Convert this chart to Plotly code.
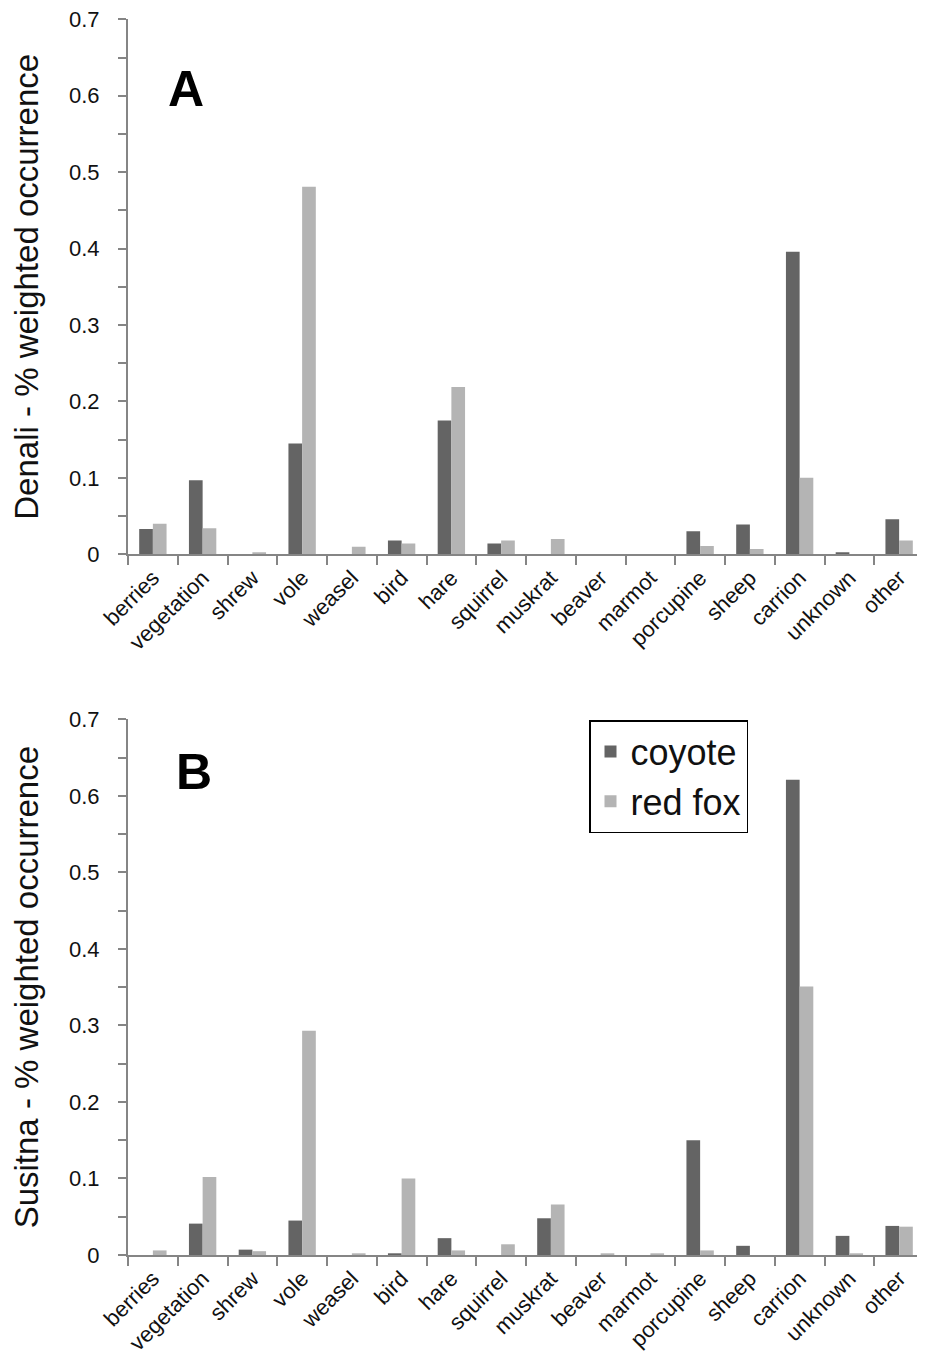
import plotly.graph_objects as go

categories = ["berries", "vegetation", "shrew", "vole", "weasel", "bird", "hare",
              "squirrel", "muskrat", "beaver", "marmot", "porcupine", "sheep",
              "carrion", "unknown", "other"]

denali_coyote = [0.033, 0.097, 0.0, 0.145, 0.0, 0.018, 0.175, 0.014, 0.0, 0.0, 0.0,
                 0.030, 0.039, 0.396, 0.002, 0.046]
denali_fox = [0.040, 0.034, 0.002, 0.481, 0.010, 0.014, 0.219, 0.018, 0.020, 0.0, 0.0,
              0.011, 0.007, 0.100, 0.0, 0.018]

susitna_coyote = [0.0, 0.041, 0.007, 0.045, 0.0, 0.002, 0.022, 0.0, 0.048, 0.0, 0.0,
                  0.150, 0.012, 0.621, 0.025, 0.038]
susitna_fox = [0.006, 0.102, 0.005, 0.293, 0.002, 0.100, 0.006, 0.014, 0.066, 0.002, 0.002,
               0.006, 0.0, 0.351, 0.002, 0.037]

y_ticks = [0, 0.1, 0.2, 0.3, 0.4, 0.5, 0.6, 0.7]
y_tick_text = ["0", "0.1", "0.2", "0.3", "0.4", "0.5", "0.6", "0.7"]
panel_titles = ["Denali - % weighted occurrence", "Susitna - % weighted occurrence"]
panel_letters = ["A", "B"]
series_names = ["coyote", "red fox"]

COYOTE = "#646464"
FOX = "#b4b4b4"
AXIS = "#858585"
FONT = "Liberation Sans, Arial, sans-serif"

# page body has an 8px margin: work in page pixels and convert
OFF = 8
W, H = 925 - OFF, 1367 - OFF
ML, MR = 128 - OFF, 1
PW = W - ML - MR

fig = go.Figure()

fig.add_trace(go.Bar(x=categories, y=denali_coyote, name=series_names[0], marker_color=COYOTE,
                     marker_line_width=0, xaxis="x", yaxis="y", showlegend=False))
fig.add_trace(go.Bar(x=categories, y=denali_fox, name=series_names[1], marker_color=FOX,
                     marker_line_width=0, xaxis="x", yaxis="y", showlegend=False))
fig.add_trace(go.Bar(x=categories, y=susitna_coyote, name=series_names[0], marker_color=COYOTE,
                     marker_line_width=0, xaxis="x2", yaxis="y2"))
fig.add_trace(go.Bar(x=categories, y=susitna_fox, name=series_names[1], marker_color=FOX,
                     marker_line_width=0, xaxis="x2", yaxis="y2"))

def ydom(top_px, bottom_px):
    return [1 - (bottom_px - OFF) / H, 1 - (top_px - OFF) / H]

n = len(categories)
boundaries = [i - 0.5 for i in range(n + 1)]

xcommon = dict(
    type="category", categoryorder="array", categoryarray=categories,
    range=[-0.5, n - 0.5],
    showline=True, linecolor=AXIS, linewidth=2,
    ticks="outside", tickson="boundaries", ticklen=9, tickwidth=2, tickcolor=AXIS,
    tickangle=-45, tickfont=dict(family=FONT, size=22, color="#111"),
    ticklabeloverflow="allow",
    showgrid=False, zeroline=False, fixedrange=True,
)
xinner = dict(
    type="linear", range=[-0.5, n - 0.5], tickvals=boundaries,
    ticks="inside", ticklen=6, tickwidth=2, tickcolor=AXIS,
    showticklabels=False, showline=False, showgrid=False, zeroline=False, fixedrange=True,
)
ycommon = dict(
    range=[0, 0.7], tickvals=y_ticks, ticktext=y_tick_text,
    showline=True, linecolor=AXIS, linewidth=2,
    ticks="outside", ticklen=8, tickwidth=2, tickcolor=AXIS,
    minor=dict(dtick=0.05, tick0=0, ticks="outside", ticklen=8, tickwidth=2, tickcolor=AXIS),
    tickfont=dict(family=FONT, size=22, color="#111"),
    ticklabelstandoff=14, ticklabeloverflow="allow",
    showgrid=False, zeroline=False, fixedrange=True,
)

fig.update_layout(
    width=W, height=H,
    margin=dict(l=ML, r=MR, t=0, b=0, autoexpand=False),
    paper_bgcolor="white", plot_bgcolor="white",
    barmode="group", bargap=0.45, bargroupgap=0,
    font=dict(family=FONT, color="#111"),
    xaxis=dict(xcommon, anchor="y", domain=[0, 1]),
    yaxis=dict(ycommon, anchor="x", domain=ydom(19.3, 554.3),
               title=dict(text=panel_titles[0], font=dict(family=FONT, size=33, color="#111"), standoff=24)),
    xaxis2=dict(xcommon, anchor="y2", domain=[0, 1]),
    yaxis2=dict(ycommon, anchor="x2", domain=ydom(719.3, 1255),
                title=dict(text=panel_titles[1], font=dict(family=FONT, size=33, color="#111"), standoff=24)),
    xaxis3=dict(xinner, overlaying="x", anchor="y", side="bottom"),
    xaxis4=dict(xinner, overlaying="x2", anchor="y2", side="bottom"),
    legend=dict(
        x=(589 - OFF - ML) / PW, y=1 - (720 - OFF) / H, xanchor="left", yanchor="top",
        bordercolor="black", borderwidth=1.5, bgcolor="white",
        font=dict(family=FONT, size=36, color="#111"),
        itemwidth=30, tracegroupgap=0,
    ),
    showlegend=True,
)

letter_pos = [(186, 89), (194, 772)]
for letter, (px, py) in zip(panel_letters, letter_pos):
    fig.add_annotation(
        text="<b>%s</b>" % letter, xref="paper", yref="paper",
        x=(px - OFF - ML) / PW, y=1 - (py - OFF) / H,
        xanchor="center", yanchor="middle", showarrow=False,
        font=dict(family=FONT, size=50, color="black"),
    )

fig.write_html("out.html")
